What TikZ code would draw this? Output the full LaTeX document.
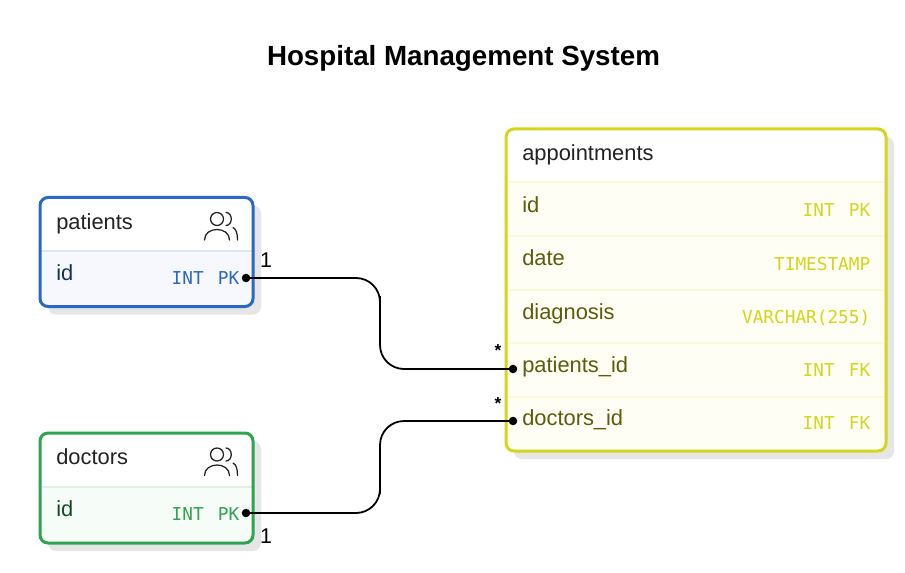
\documentclass[tikz,border=0pt]{standalone}
\usepackage{fontspec}
\setmainfont{Liberation Sans}
\setmonofont{DejaVu Sans Mono}
\usetikzlibrary{calc}
\definecolor{ink}{HTML}{222222}
\definecolor{shade}{HTML}{E6E6E6}
\definecolor{bluec}{HTML}{2B68C4}
\definecolor{bluerow}{HTML}{F6F8FD}
\definecolor{bluerule}{HTML}{DDE7F6}
\definecolor{bluetxt}{HTML}{16305A}
\definecolor{greenc}{HTML}{2FA44F}
\definecolor{greenrow}{HTML}{F6FCF8}
\definecolor{greenrule}{HTML}{DFF2E4}
\definecolor{greentxt}{HTML}{164A25}
\definecolor{yellowc}{HTML}{D3D61C}
\definecolor{yellowrow}{HTML}{FEFEF5}
\definecolor{yellowrule}{HTML}{FAFAD8}
\definecolor{yellowtxt}{HTML}{5B5C0C}
\tikzset{
  x=0.75pt, y=-0.75pt,
  frame/.style={draw=#1, fill=none, line width=2.25pt, rounded corners=6pt, inner sep=0pt},
  tint/.style={fill=#1, rounded corners=6pt},
  rowline/.style={draw=#1, line width=0.9pt},
  shadow/.style={fill=shade, rounded corners=6pt},
  title/.style={font=\bfseries\fontsize{20.8}{24}\selectfont, text=black, anchor=base},
  tname/.style={font=\fontsize{16.4}{20}\selectfont, text=ink, anchor=base west, inner sep=0pt},
  cname/.style={font=\fontsize{16.4}{20}\selectfont, text=#1, anchor=base west, inner sep=0pt},
  ctype/.style={font=\ttfamily\fontsize{13.3}{16}\selectfont, text=#1, anchor=base east, inner sep=0pt},
  rel/.style={draw=black, line width=1.35pt, rounded corners=18pt},
  dot/.style={circle, fill=black, inner sep=0pt, minimum size=6.4pt},
  card/.style={font=\fontsize{16}{18}\selectfont, text=black, inner sep=0pt},
  star/.style={font=\bfseries\fontsize{13}{16}\selectfont, text=black, inner sep=0pt},
  people/.style={draw=ink, line width=0.95pt, line cap=round},
}
\begin{document}
\begin{tikzpicture}
  \useasboundingbox[fill=white] (0,0) rectangle (905,573);
  \node[title] (title) at (463.5,65.5) {Hospital Management System};
  % patients
  \fill[shadow] (48,205.5) rectangle (261,314.5);
  \fill[white, rounded corners=6pt] (40,197.5) rectangle (253,306.5);
  \fill[tint=bluerow] (40,251) -- (253,251) [rounded corners=6pt] -- (253,306.5) -- (40,306.5) -- cycle;
  \draw[rowline=bluerule] (41,251) -- (252,251);
  \node[frame=bluec, minimum width=159.75pt, minimum height=81.75pt] (patients) at (146.5,252) {};
  \node[tname] (patientsname) at (56,230) {patients};
  \node[cname=bluetxt] (patientsid) at (56,281) {id};
  \node[ctype=bluec] (patientstype) at (239.5,285) {INT\hspace{2.6pt} PK};
  \draw[people] (217,219) circle (6.5) (204.5,240) .. controls (204.5,226) and (229.5,226) .. (229.5,240);
  \draw[people] (226,212.5) .. controls (233,212.5) and (233,225.5) .. (226,225.5);
  \draw[people] (233,227.5) .. controls (236,229) and (237.5,233) .. (237.5,240);
  % doctors
  \fill[shadow] (48,441) rectangle (261,551);
  \fill[white, rounded corners=6pt] (40,433) rectangle (253,543);
  \fill[tint=greenrow] (40,487) -- (253,487) [rounded corners=6pt] -- (253,543) -- (40,543) -- cycle;
  \draw[rowline=greenrule] (41,487) -- (252,487);
  \node[frame=greenc, minimum width=159.75pt, minimum height=82.5pt] (doctors) at (146.5,488) {};
  \node[tname] (doctorsname) at (56,464.5) {doctors};
  \node[cname=greentxt] (doctorsid) at (56,516.5) {id};
  \node[ctype=greenc] (doctorstype) at (239.5,520.5) {INT\hspace{2.6pt} PK};
  \draw[people] (217,454.5) circle (6.5) (204.5,475.5) .. controls (204.5,461.5) and (229.5,461.5) .. (229.5,475.5);
  \draw[people] (226,448) .. controls (233,448) and (233,461) .. (226,461);
  \draw[people] (233,463) .. controls (236,464.5) and (237.5,468.5) .. (237.5,475.5);
  % appointments
  \fill[shadow] (514,137) rectangle (894,459);
  \fill[white, rounded corners=6pt] (506,129) rectangle (886,451);
  \fill[tint=yellowrow] (506,182) -- (886,182) [rounded corners=6pt] -- (886,451) -- (506,451) -- cycle;
  \foreach \ypos in {182,236,290,343,397}
    \draw[rowline=yellowrule] (507,\ypos) -- (885,\ypos);
  \node[frame=yellowc, minimum width=285pt, minimum height=241.5pt] (appointments) at (696,290) {};
  \node[tname] (appointmentsname) at (522,161) {appointments};
  \foreach \cid/\cname/\ctypetxt/\ybase in {
      a/id/{INT\hspace{2.6pt} PK}/212.5,
      b/date/TIMESTAMP/266,
      c/diagnosis/VARCHAR(255)/319,
      d/patients\_id/{INT\hspace{2.6pt} FK}/372,
      e/doctors\_id/{INT\hspace{2.6pt} FK}/425} {
    \node[cname=yellowtxt] (col\cid) at (522,\ybase) {\cname};
    \node[ctype=yellowc] (type\cid) at (870.5,\ybase+4.5) {\ctypetxt};
  }
  % relations
  \node[dot] (patientsdot) at (246,278) {};
  \node[dot] (doctorsdot) at (246,513) {};
  \node[dot] (visitdot) at (513,369) {};
  \node[dot] (treatdot) at (513,421) {};
  \coordinate (benda) at (380,320);
  \coordinate (bendb) at (380,470);
  \draw[rel] (patientsdot.center) -| (benda) |- (visitdot.center);
  \draw[rel] (doctorsdot.center) -| (bendb) |- (treatdot.center);
  \node[card] (carda) at (266,260) {1};
  \node[card] (cardb) at (266,536) {1};
  \node[star] (stara) at (498,351) {*};
  \node[star] (starb) at (498,404) {*};
\end{tikzpicture}
\end{document}
